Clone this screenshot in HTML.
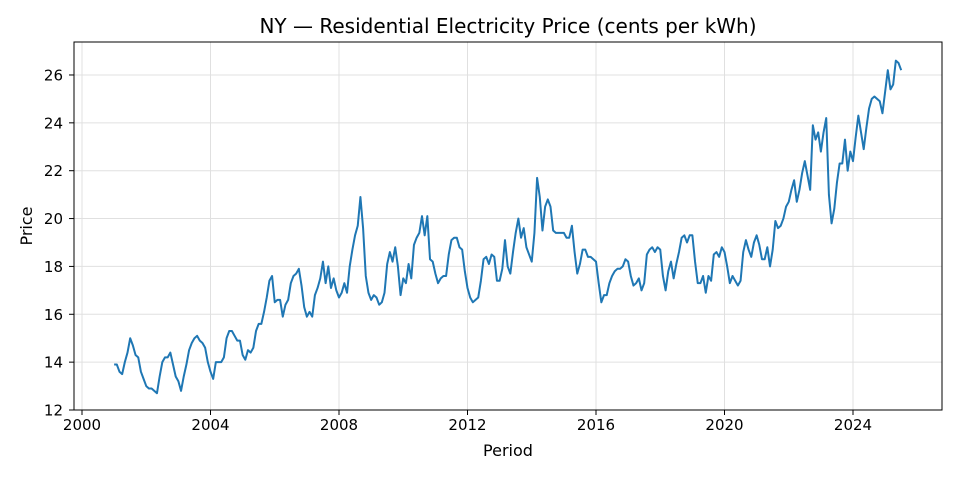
<!DOCTYPE html>
<html><head><meta charset="utf-8"><style>
body{margin:0;background:#fff;font-family:"Liberation Sans","DejaVu Sans",sans-serif}
svg text{font-family:"DejaVu Sans","Liberation Sans",sans-serif}
</style></head><body>
<svg id="chart" width="960" height="480">
<text x="508" y="33" text-anchor="middle" font-size="20">NY — Residential Electricity Price (cents per kWh)</text>
<g id="grid"></g><g id="axes"></g><g id="series"></g>
<rect x="74" y="42" width="868" height="368" fill="none" stroke="#000" stroke-width="1"/>
<text x="508" y="456" text-anchor="middle" font-size="16">Period</text>
<text x="32" y="226" text-anchor="middle" font-size="16" transform="rotate(-90 32 226)">Price</text>
</svg>
<script>
const startYear = 2001;
const xTicks = [2000,2004,2008,2012,2016,2020,2024];
const yTicks = [12,14,16,18,20,22,24,26];
const prices = [
13.9,13.9,13.6,13.5,14.0,14.4,15.0,14.7,14.3,14.2,13.6,13.3,
13.0,12.9,12.9,12.8,12.7,13.4,14.0,14.2,14.2,14.4,13.9,13.4,
13.2,12.8,13.4,13.9,14.5,14.8,15.0,15.1,14.9,14.8,14.6,14.0,
13.6,13.3,14.0,14.0,14.0,14.2,15.0,15.3,15.3,15.1,14.9,14.9,
14.3,14.1,14.5,14.4,14.6,15.3,15.6,15.6,16.1,16.7,17.4,17.6,
16.5,16.6,16.6,15.9,16.4,16.6,17.3,17.6,17.7,17.9,17.2,16.3,
15.9,16.1,15.9,16.8,17.1,17.5,18.2,17.3,18.0,17.1,17.5,17.0,
16.7,16.9,17.3,16.9,18.0,18.7,19.3,19.7,20.9,19.6,17.6,16.9,
16.6,16.8,16.7,16.4,16.5,16.9,18.1,18.6,18.2,18.8,18.0,16.8,
17.5,17.3,18.1,17.5,18.9,19.2,19.4,20.1,19.3,20.1,18.3,18.2,
17.7,17.3,17.5,17.6,17.6,18.5,19.1,19.2,19.2,18.8,18.7,17.8,
17.1,16.7,16.5,16.6,16.7,17.4,18.3,18.4,18.1,18.5,18.4,17.4,
17.4,17.9,19.1,18.0,17.7,18.6,19.4,20.0,19.2,19.6,18.8,18.5,
18.2,19.4,21.7,20.9,19.5,20.5,20.8,20.5,19.5,19.4,19.4,19.4,
19.4,19.2,19.2,19.7,18.6,17.7,18.1,18.7,18.7,18.4,18.4,18.3,
18.2,17.3,16.5,16.8,16.8,17.3,17.6,17.8,17.9,17.9,18.0,18.3,
18.2,17.6,17.2,17.3,17.5,17.0,17.3,18.5,18.7,18.8,18.6,18.8,
18.7,17.6,17.0,17.8,18.2,17.5,18.1,18.6,19.2,19.3,19.0,19.3,
19.3,18.2,17.3,17.3,17.6,16.9,17.6,17.4,18.5,18.6,18.4,18.8,
18.6,18.0,17.3,17.6,17.4,17.2,17.4,18.6,19.1,18.7,18.4,19.0,
19.3,18.9,18.3,18.3,18.8,18.0,18.7,19.9,19.6,19.7,20.0,20.5,
20.7,21.2,21.6,20.7,21.2,21.9,22.4,21.8,21.2,23.9,23.3,23.6,
22.8,23.6,24.2,21.0,19.8,20.4,21.5,22.3,22.3,23.3,22.0,22.8,
22.4,23.4,24.3,23.6,22.9,23.8,24.6,25.0,25.1,25.0,24.9,24.4,
25.3,26.2,25.4,25.6,26.6,26.5,26.2
];
const NS='http://www.w3.org/2000/svg';
function xs(t){return 82+(t-2000)*32.125;}
function ys(v){return 410-(v-12)*23.93;}
const grid=document.getElementById('grid'),axes=document.getElementById('axes'),ser=document.getElementById('series');
function mk(tag,attrs,parent){const e=document.createElementNS(NS,tag);for(const k in attrs)e.setAttribute(k,attrs[k]);parent.appendChild(e);return e;}
xTicks.forEach(t=>{
  const x=xs(t);
  const g=mk('line',{x1:x,x2:x,y1:42,y2:410,stroke:'#e0e0e0','stroke-width':1},grid);
  
  
  mk('line',{x1:x,x2:x,y1:410,y2:415,stroke:'#000'},axes);
  const l=mk('text',{x:x,y:430,'text-anchor':'middle','font-size':15},axes);
  l.textContent=t;
  
  
});
yTicks.forEach(v=>{
  const y=ys(v);
  const g=mk('line',{x1:74,x2:942,y1:y,y2:y,stroke:'#e0e0e0','stroke-width':1},grid);
  
  
  mk('line',{x1:69,x2:74,y1:y,y2:y,stroke:'#000'},axes);
  const l=mk('text',{x:63,y:y+5.5,'text-anchor':'end','font-size':15},axes);
  l.textContent=v;
  
  
});
const pts=prices.map((v,i)=>xs(startYear+i/12).toFixed(2)+','+ys(v).toFixed(2)).join(' ');
const line=mk('polyline',{points:pts,fill:'none',stroke:'#1f77b4','stroke-width':2,'stroke-linejoin':'round'},ser);


</script>
</body></html>
